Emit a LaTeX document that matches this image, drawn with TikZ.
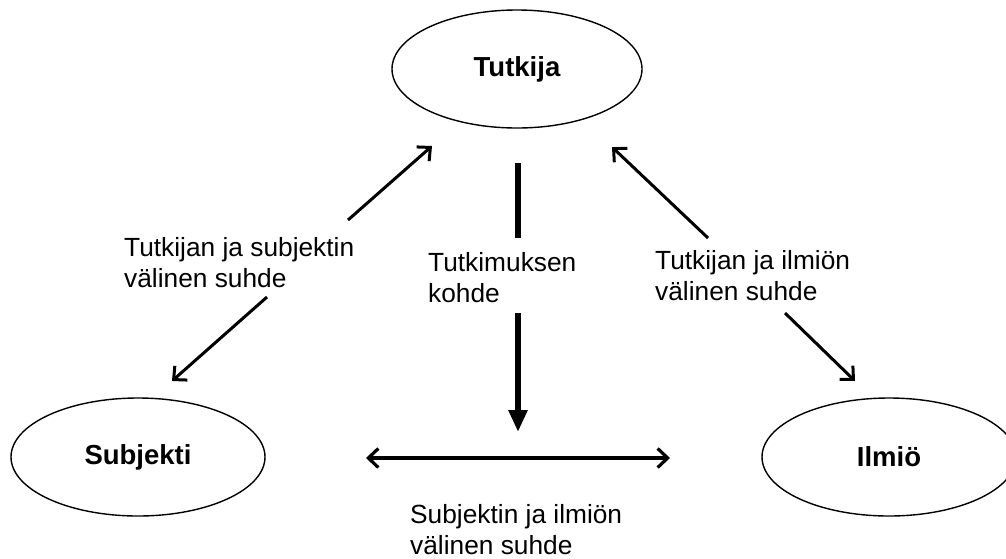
\documentclass[tikz,border=0pt]{standalone}
\usepackage{fontspec}
\setmainfont{Liberation Sans}
\usetikzlibrary{arrows.meta,shapes.geometric}
\begin{document}
\begin{tikzpicture}[x=1pt,y=-1pt,
  oval/.style={draw,line width=1.4pt,ellipse,minimum width=#1,minimum height=118pt,inner sep=0pt,font=\fontsize{27.5}{31}\selectfont\bfseries},
  lbl/.style={anchor=base west,inner sep=0pt,align=left,font=\fontsize{26.3}{31}\selectfont},
  diag/.style={line width=3pt,-{Straight Barb[length=10pt,width=19pt,line width=3pt]}},
  horiz/.style={line width=3.5pt,{Straight Barb[length=10pt,width=19pt,line width=3.2pt]}-{Straight Barb[length=10pt,width=19pt,line width=3.2pt]}},
  vert/.style={line width=5.5pt},
  vhead/.style={line width=5.5pt,-{Triangle[length=22pt,width=18pt]}}
]
\useasboundingbox (0,0) rectangle (1006,558);
\begin{scope}
\clip (0,0) rectangle (1006,558);
\node[oval=250pt] (tut) at (517,69) {Tutkija};
\node[oval=254pt] (sub) at (138,457) {Subjekti};
\node[oval=254pt] (ilm) at (889,457) {Ilmiö};
\end{scope}

\node[lbl] (l1) at (124,287) {Tutkijan ja subjektin\\välinen suhde};
\node[lbl] (l2) at (428,302) {Tutkimuksen\\kohde};
\node[lbl] (l3) at (655,300) {Tutkijan ja ilmiön\\välinen suhde};
\node[lbl] (l4) at (410,554) {Subjektin ja ilmiön\\välinen suhde};

\coordinate (a1s) at (348,220); \coordinate (a1e) at (432,146);
\coordinate (a2s) at (267,297); \coordinate (a2e) at (172,381);
\coordinate (a3s) at (708,238); \coordinate (a3e) at (612,147);
\coordinate (a4s) at (785,313); \coordinate (a4e) at (855,381);
\coordinate (v1s) at (518,163); \coordinate (v1e) at (518,238);
\coordinate (v2s) at (518,313); \coordinate (v2e) at (518,432);
\coordinate (hs) at (366,458); \coordinate (he) at (670,458);

\draw[diag] (a1s) -- (a1e);
\draw[diag] (a2s) -- (a2e);
\draw[diag] (a3s) -- (a3e);
\draw[diag] (a4s) -- (a4e);
\draw[vert] (v1s) -- (v1e);
\draw[vhead] (v2s) -- (v2e);
\draw[horiz] (hs) -- (he);
\end{tikzpicture}
\end{document}
